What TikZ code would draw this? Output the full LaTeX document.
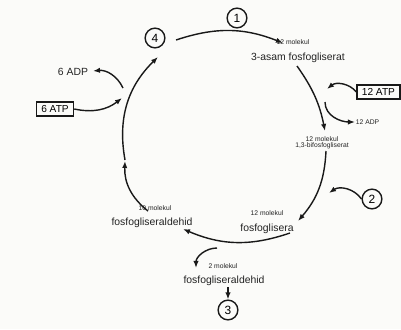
\documentclass[tikz,border=0pt]{standalone}
\usepackage{fontspec}
\setmainfont{Liberation Sans}
\usepackage{xcolor}
\usepackage{tikz}
\usetikzlibrary{arrows.meta, positioning, calc}
\definecolor{Kertas} {RGB}{251,251,249}
\definecolor{Tinta}  {RGB}{25, 25, 25}
\definecolor{TeksAbu}{RGB}{35, 35, 35}

\begin{document}
\begin{tikzpicture}[
      x=0.025cm, y=0.025cm,
      nama/.style ={text=TeksAbu,inner sep=0.5pt,font=\fontsize{7.4}{8}\selectfont},
      kecil/.style={text=TeksAbu,inner sep=0.5pt,font=\fontsize{4.8}{5}\selectfont},
      nomor/.style={circle,draw=Tinta,line width=1pt,minimum size=14pt,
                    inner sep=0pt,font=\fontsize{8.5}{9}\selectfont},
      kotak/.style={draw=Tinta,line width=0.9pt,inner xsep=3.5pt,inner ysep=1.5pt,
                    minimum height=10pt,font=\fontsize{7.2}{8}\selectfont},
      pn/.style   ={-{Latex[length=5pt,width=3.8pt]},Tinta,line width=1pt}]
      \fill[Kertas] (0,0) rectangle (401,-329);
      \useasboundingbox (0,0) rectangle (401,-329);
      % tahap
      \node[nomor] (s1) at (237,-18)  {1};
      \node[nomor] (s4) at (155,-38)  {4};
      \node[nomor] (s2) at (372,-199) {2};
      \node[nomor] (s3) at (228,-310) {3};
      % senyawa
      \node[kecil] (m1)    at (293,-42)  {12 molekul};
      \node[nama]  (asam)  at (298,-58)  {3-asam fosfogliserat};
      \node[kecil] (m2)    at (322,-139) {12 molekul};
      \node[kecil] (bifos) at (322,-146) {1,3-bifosfogliserat};
      \node[kecil] (m3)    at (267,-213) {12 molekul};
      \node[nama]  (fgs)   at (267,-229) {fosfoglisera};
      \node[kecil] (m4)    at (155,-208) {10 molekul};
      \node[nama]  (gal1)  at (152,-223) {fosfogliseraldehid};
      \node[kecil] (m5)    at (223,-266) {2 molekul};
      \node[nama]  (gal2)  at (224,-281) {fosfogliseraldehid};
      % energi
      \node[kotak,anchor=east] (atp12) at (400.5,-92) {12 ATP};
      \node[kecil,anchor=west] (adp12) at (355,-122)  {12 ADP};
      \node[kotak] (atp6) at (55,-109) {6 ATP};
      \node[nama]  (adp6) at (73,-72)  {6 ADP};
      % titik siklus
      \coordinate (a1) at (176,-40);  \coordinate (a2) at (283,-43);
      \coordinate (b1) at (297,-66);  \coordinate (b2) at (325,-131);
      \coordinate (c1) at (326,-151); \coordinate (c2) at (298,-221);
      \coordinate (d1) at (290,-233); \coordinate (d2) at (183,-229);
      \coordinate (e1) at (148,-211); \coordinate (e2) at (125,-161);
      \coordinate (f1) at (125,-160); \coordinate (f2) at (158,-57);
      \foreach \p/\q/\t in {a1/a2/20,b1/b2/12,c1/c2/19,d1/d2/21,e1/e2/27,f1/f2/28}
        \draw[pn] (\p) to[bend left=\t] (\q);
      % panah samping
      \coordinate (atpIn)  at (327,-89);
      \coordinate (adpOut) at (325,-102);
      \coordinate (s2In)   at (329,-193);
      \coordinate (atp6In) at (122,-98);
      \coordinate (adp6Out) at (123,-88);
      \coordinate (adp6In) at (93,-71);
      \coordinate (galOut) at (217,-248);
      \coordinate (galIn)  at (196,-268);
      \draw[pn] (atp12.west) to[bend right=45] (atpIn);
      \draw[pn] (adpOut) to[out=-90,in=180] (adp12.west);
      \draw[pn] (s2.west) to[bend right=45] (s2In);
      \draw[pn] (atp6.east) to[bend right=25] (atp6In);
      \draw[pn] (adp6Out) to[bend right=35] (adp6In);
      \draw[pn] (galOut) to[out=180,in=90] (galIn);
      \draw[pn] (gal2.south -| s3.north) -- (s3.north);
\end{tikzpicture}
\end{document}
